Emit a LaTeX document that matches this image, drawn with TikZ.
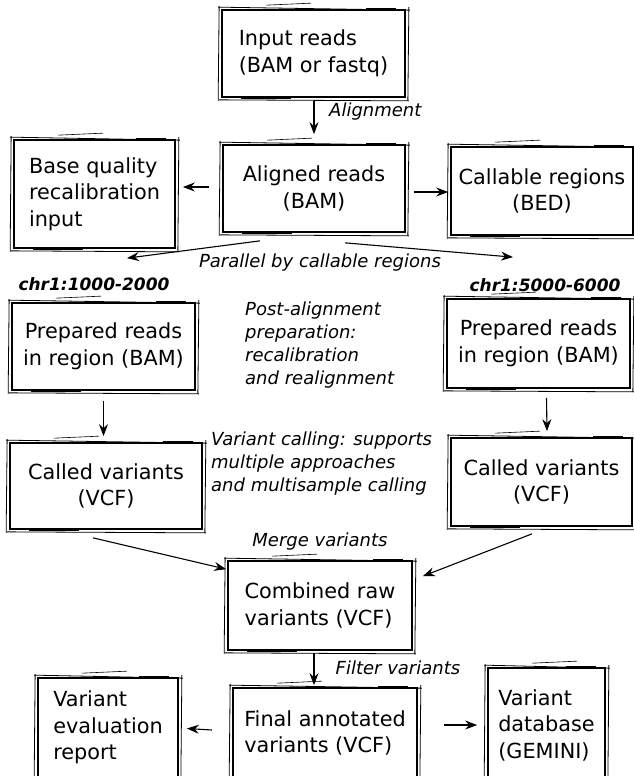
\documentclass[tikz,border=0pt]{standalone}
\usepackage{fontspec}
\setmainfont{DejaVu Sans}[BoldFont={DejaVu Sans Bold},ItalicFont={DejaVu Sans Oblique},BoldItalicFont={DejaVu Sans Bold Oblique}]
\usetikzlibrary{arrows.meta,calc}
\newcommand{\boxfont}{\fontsize{20.8}{26.5}\selectfont}
\newcommand{\labfont}{\fontsize{18}{23}\selectfont\itshape}
\newcommand{\chrfont}{\fontsize{17}{20}\selectfont\bfseries\itshape}
\newcommand{\sketchit}[1]{%
  \draw[line width=0.8pt] ([shift={(-3,-2)}]#1.north west) -- ([shift={(4,1)}]#1.north east);
  \draw[line width=0.8pt] ([shift={(3,-2)}]#1.north east) -- ([shift={(2,3)}]#1.south east);
  \draw[line width=0.8pt] ([shift={(3,3)}]#1.south east) -- ([shift={(-2,2)}]#1.south west);
  \draw[line width=0.8pt] ([shift={(-3,3)}]#1.south west) -- ([shift={(-2,-3)}]#1.north west);
  \draw[line width=0.6pt] ([shift={(45,-4)}]#1.north west) -- ([shift={(90,-6)}]#1.north west);
  \draw[line width=2.4pt] ([shift={(20,0)}]#1.south west) -- ([shift={(70,0)}]#1.south west);
  \draw[line width=2.4pt] ([shift={(-40,0)}]#1.north east) -- ([shift={(-10,0)}]#1.north east);
}
\tikzset{
  box/.style={draw, line width=1.7pt, inner sep=0pt, font=\boxfont, align=center},
  lab/.style={font=\labfont, inner sep=0pt},
  chr/.style={font=\chrfont, inner sep=0pt},
  arr/.style={-{Stealth[length=12pt,width=9pt,inset=4pt]}, line width=1.1pt},
}
\begin{document}
\begin{tikzpicture}[x=1pt,y=-1pt]
\useasboundingbox (0,0) rectangle (634,776);
% boxes
\node[box, align=left, minimum width=183, minimum height=87] (inp) at (313.5,53.5) {Input reads\\(BAM or fastq)};
\node[box, minimum width=182, minimum height=87] (aln) at (314,188.5) {Aligned reads\\(BAM)};
\node[box, align=left, minimum width=161, minimum height=108] (base) at (94.5,194) {Base quality\\recalibration\\input};
\node[box, minimum width=182, minimum height=88] (call) at (542,191) {Callable regions\\(BED)};
\node[box, minimum width=183, minimum height=87] (prepL) at (103.5,346.5) {Prepared reads\\in region (BAM)};
\node[box, minimum width=183, minimum height=89] (prepR) at (538.5,343.5) {Prepared reads\\in region (BAM)};
\node[box, minimum width=192, minimum height=86] (calledL) at (106,486) {Called variants\\(VCF)};
\node[box, minimum width=181, minimum height=88] (calledR) at (541.5,482) {Called variants\\(VCF)};
\node[box, align=left, minimum width=184, minimum height=89] (comb) at (320,605.5) {Combined raw\\variants (VCF)};
\node[box, align=left, minimum width=184, minimum height=90] (fin) at (325,733) {Final annotated\\variants (VCF)};
\node[box, align=left, minimum width=140, minimum height=99] (eval) at (108,727.5) {Variant\\evaluation\\report};
\node[box, align=left, minimum width=117, minimum height=114] (db) at (546.5,725) {Variant\\database\\(GEMINI)};
\foreach \n in {inp,aln,base,call,prepL,prepR,calledL,calledR,comb,fin,eval,db}{\sketchit{\n}}
% labels
\node[lab, anchor=west] (lalign) at (329,112) {Alignment};
\node[lab] (lpar) at (320,263) {Parallel by callable regions};
\node[chr] (chrL) at (94,284) {chr1:1000-2000};
\node[chr] (chrR) at (545,285) {chr1:5000-6000};
\node[lab, anchor=west, align=left] (lpost) at (245,345) {Post-alignment\\preparation:\\recalibration\\and realignment};
\node[lab, anchor=west, align=left] (lvar) at (211,464) {Variant calling: supports\\multiple approaches\\and multisample calling};
\node[lab] (lmerge) at (320,542) {Merge variants};
\node[lab] (lfilt) at (398,668) {Filter variants};
% connectors
\draw[arr] ($(inp.south)+(0.5,3)$) -- ($(aln.north)+(0,-10)$);
\draw[arr] ($(aln.west)+(-13,-1.5)$) -- ($(base.east |- aln.west)+(7,-1.5)$);
\draw[arr] ($(aln.east)+(8,3.5)$) -- ($(call.west)+(-2,1)$);
\draw[arr] ($(aln.south)+(-54,8)$) -- ($(prepL.north)+(23.5,-44)$);
\draw[arr] ($(aln.south)+(31,10)$) -- ($(prepR.north)+(-25.5,-41)$);
\draw[arr] ($(prepL.south)+(0,10)$) -- ($(prepL.south |- calledL.north)+(0,-6)$);
\draw[arr] ($(prepR.south)+(8,9)$) -- ($(calledR.north)+(5.5,-6)$);
\draw[arr] ($(calledL.south)+(-13,8)$) -- ($(comb.north west)+(-1,9)$);
\draw[arr] ($(calledR.south)+(-9.5,7)$) -- ($(comb.north east)+(10,16)$);
\draw[arr] ($(comb.south)+(-6,2)$) -- ($(fin.north)+(-11,-2)$);
\draw[arr] ($(fin.west)+(-20,-3)$) -- ($(eval.east)+(8,1)$);
\draw[arr] ($(fin.east)+(26,-8)$) -- ($(db.west)+(-10,0)$);
\end{tikzpicture}
\end{document}
